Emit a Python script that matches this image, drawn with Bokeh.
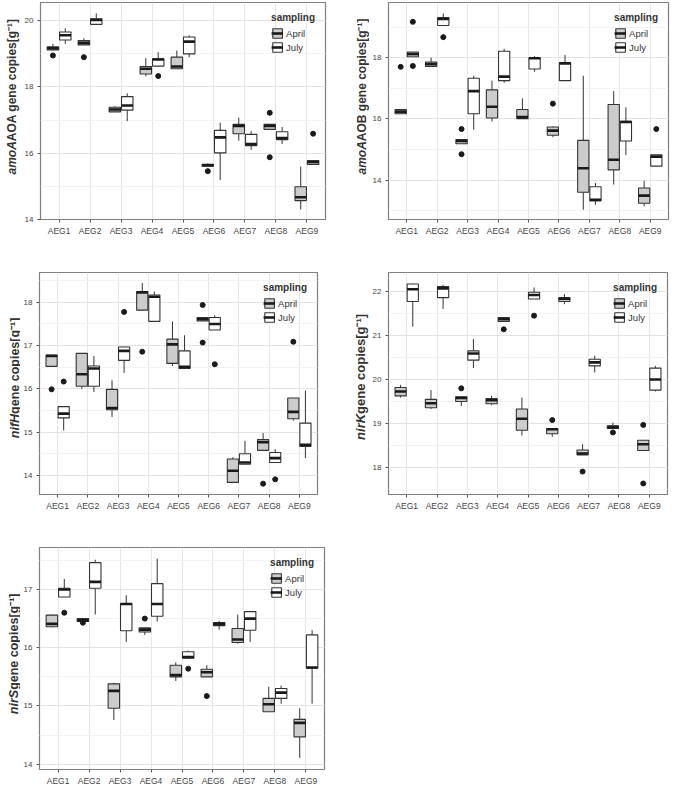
import math
from bokeh.plotting import figure
from bokeh.models import (ColumnDataSource, Range1d, SingleIntervalTicker, FixedTicker,
                          Legend, LegendItem)
from bokeh.core.properties import value
from bokeh.transform import dodge
from bokeh.layouts import column, row
from bokeh.embed import file_html
from bokeh.resources import INLINE

categories = ["AEG1", "AEG2", "AEG3", "AEG4", "AEG5", "AEG6", "AEG7", "AEG8", "AEG9"]
seasons = ["April", "July"]

# each entry: (lower whisker, Q1, median, Q3, upper whisker)
aoa_april = [(19.12, 19.12, 19.17, 19.21, 19.30), (19.27, 19.27, 19.33, 19.40, 19.47),
             (17.25, 17.25, 17.32, 17.39, 17.42), (18.32, 18.39, 18.55, 18.62, 18.87),
             (18.55, 18.55, 18.62, 18.90, 19.10), (15.61, 15.61, 15.64, 15.66, 15.69),
             (16.38, 16.59, 16.82, 16.87, 17.07), (16.72, 16.72, 16.82, 16.87, 16.87),
             (14.30, 14.57, 14.67, 14.99, 15.60)]
aoa_july = [(19.30, 19.42, 19.56, 19.66, 19.77), (19.89, 19.89, 20.02, 20.06, 20.22),
            (16.97, 17.30, 17.44, 17.71, 17.81), (18.63, 18.63, 18.83, 18.85, 19.05),
            (18.90, 19.00, 19.37, 19.51, 19.56), (15.19, 16.01, 16.48, 16.69, 16.92),
            (16.10, 16.23, 16.28, 16.57, 16.67), (16.28, 16.41, 16.46, 16.65, 16.79),
            (15.66, 15.66, 15.73, 15.78, 15.78)]
aoa_april_out = [("AEG1", 18.95), ("AEG2", 18.90), ("AEG6", 15.46), ("AEG8", 17.22), ("AEG8", 15.88)]
aoa_july_out = [("AEG4", 18.33), ("AEG9", 16.59)]

aob_april = [(16.17, 16.17, 16.24, 16.31, 16.31), (17.71, 17.71, 17.79, 17.86, 18.00),
             (15.19, 15.19, 15.28, 15.33, 15.33), (15.92, 16.03, 16.40, 16.95, 17.25),
             (16.00, 16.01, 16.06, 16.31, 16.67), (15.41, 15.47, 15.62, 15.74, 15.76),
             (13.04, 13.61, 14.39, 15.30, 17.41), (13.86, 14.34, 14.67, 16.47, 16.91),
             (13.15, 13.25, 13.50, 13.75, 13.98)]
aob_july = [(18.03, 18.03, 18.11, 18.18, 18.18), (19.05, 19.05, 19.26, 19.31, 19.44),
            (15.65, 16.17, 16.91, 17.33, 17.41), (17.18, 17.25, 17.38, 18.21, 18.29),
            (17.54, 17.63, 17.98, 18.00, 18.05), (17.25, 17.25, 17.81, 17.84, 18.09),
            (13.20, 13.33, 13.36, 13.79, 13.91), (14.82, 15.28, 15.90, 15.92, 16.38),
            (14.46, 14.46, 14.77, 14.83, 14.83)]
aob_april_out = [("AEG1", 17.70), ("AEG3", 15.67), ("AEG3", 14.85), ("AEG6", 16.50)]
aob_july_out = [("AEG1", 19.17), ("AEG1", 17.73), ("AEG2", 18.67), ("AEG9", 15.67)]

nifh_april = [(16.52, 16.52, 16.76, 16.78, 16.78), (16.00, 16.06, 16.34, 16.82, 16.82),
              (15.35, 15.52, 15.56, 15.99, 16.20), (17.82, 17.82, 18.23, 18.25, 18.45),
              (16.53, 16.59, 17.03, 17.15, 17.56), (17.57, 17.57, 17.61, 17.65, 17.65),
              (13.84, 13.84, 14.11, 14.38, 14.42), (14.58, 14.58, 14.77, 14.83, 14.98),
              (15.27, 15.31, 15.47, 15.79, 15.79)]
nifh_july = [(15.04, 15.33, 15.43, 15.59, 15.59), (15.93, 16.06, 16.47, 16.53, 16.76),
             (16.37, 16.66, 16.88, 16.97, 16.97), (17.56, 17.56, 18.13, 18.17, 18.25),
             (16.47, 16.47, 16.51, 16.88, 17.24), (17.36, 17.36, 17.50, 17.65, 17.70),
             (14.26, 14.26, 14.30, 14.50, 14.80), (14.30, 14.30, 14.40, 14.53, 14.61),
             (14.40, 14.67, 14.71, 15.21, 15.96)]
nifh_april_out = [("AEG1", 15.99), ("AEG4", 16.86), ("AEG6", 17.94), ("AEG6", 17.07),
                  ("AEG8", 13.81), ("AEG9", 17.09)]
nifh_july_out = [("AEG1", 16.17), ("AEG3", 17.78), ("AEG6", 16.57), ("AEG8", 13.91)]

nirk_april = [(19.59, 19.63, 19.73, 19.82, 19.88), (19.33, 19.36, 19.46, 19.55, 19.76),
              (19.40, 19.50, 19.58, 19.61, 19.61), (19.42, 19.45, 19.53, 19.57, 19.63),
              (18.73, 18.85, 19.11, 19.33, 19.59), (18.70, 18.77, 18.87, 18.89, 18.89),
              (18.29, 18.29, 18.32, 18.40, 18.53), (18.89, 18.89, 18.92, 18.95, 19.02),
              (18.39, 18.39, 18.53, 18.62, 18.62)]
nirk_july = [(21.20, 21.77, 22.05, 22.17, 22.18), (21.60, 21.86, 22.07, 22.11, 22.15),
             (20.26, 20.44, 20.59, 20.65, 20.92), (21.32, 21.32, 21.37, 21.41, 21.41),
             (21.83, 21.83, 21.92, 21.98, 22.09), (21.71, 21.77, 21.83, 21.86, 21.94),
             (20.16, 20.31, 20.39, 20.46, 20.54), None,
             (19.73, 19.76, 20.00, 20.26, 20.31)]
nirk_april_out = [("AEG3", 19.80), ("AEG6", 19.08), ("AEG7", 17.91), ("AEG8", 18.80),
                  ("AEG9", 18.97), ("AEG9", 17.64)]
nirk_july_out = [("AEG4", 21.14), ("AEG5", 21.45)]

nirs_april = [(16.35, 16.36, 16.41, 16.56, 16.57), (16.45, 16.45, 16.47, 16.50, 16.50),
              (14.76, 14.96, 15.26, 15.38, 15.40), (16.22, 16.27, 16.31, 16.34, 16.34),
              (15.43, 15.50, 15.53, 15.70, 15.75), (15.50, 15.50, 15.58, 15.63, 15.70),
              (16.07, 16.09, 16.14, 16.33, 16.57), (14.90, 14.90, 15.03, 15.13, 15.33),
              (14.11, 14.47, 14.71, 14.77, 14.96)]
nirs_july = [(16.87, 16.87, 17.00, 17.02, 17.18), (16.57, 17.02, 17.13, 17.46, 17.51),
             (16.10, 16.29, 16.75, 16.76, 16.90), (16.45, 16.54, 16.75, 17.10, 17.53),
             (15.82, 15.82, 15.84, 15.93, 15.95), (16.31, 16.38, 16.41, 16.43, 16.46),
             (16.10, 16.30, 16.50, 16.62, 16.63), (15.04, 15.13, 15.23, 15.30, 15.35),
             (15.04, 15.65, 15.66, 16.22, 16.30)]
nirs_april_out = [("AEG2", 16.43), ("AEG4", 16.50), ("AEG6", 15.17)]
nirs_july_out = [("AEG1", 16.60), ("AEG5", 15.64)]

TICK_FONT = "'Liberation Sans Narrow', 'Liberation Sans', Arial, sans-serif"
LAB_FONT = "'Liberation Sans', Arial, sans-serif"
FILLS = {"April": "#cccccc", "July": "#ffffff"}
OFFS = {"April": -0.2, "July": 0.2}
X0, X1 = 0.4, len(categories) + 0.6
POS = {c: i + 1 for i, c in enumerate(categories)}
PANEL_BORDER_LEFT = 15


def make_panel(april, july, april_out, july_out, yr, interval, gene, rest,
               w, h, bl, br, bt, bb, lab_px, lab_fs, split_off):
    lw = bl - PANEL_BORDER_LEFT
    p = figure(width=w - lw, height=h, x_range=Range1d(X0, X1),
               y_range=Range1d(*yr), output_backend="svg", toolbar_location=None,
               min_border_left=PANEL_BORDER_LEFT, min_border_right=br,
               min_border_top=bt, min_border_bottom=bb)
    p.background_fill_color = "white"
    p.border_fill_color = "white"
    p.outline_line_color = "#7f7f7f"
    p.outline_line_width = 1.2

    p.xaxis.ticker = FixedTicker(ticks=[POS[c] for c in categories])
    p.xaxis.major_label_overrides = {POS[c]: c for c in categories}
    p.yaxis.ticker = SingleIntervalTicker(interval=interval, num_minor_ticks=2)
    for ax in (p.xaxis[0], p.yaxis[0]):
        ax.axis_line_color = None
        ax.major_tick_line_color = "#555555"
        ax.major_tick_in = 0
        ax.major_tick_out = 3
        ax.minor_tick_line_color = None
        ax.major_label_text_font = TICK_FONT
        ax.major_label_text_color = "#444444"
        ax.major_label_standoff = 3
    p.xaxis.major_label_text_font_size = "8.5px"
    p.yaxis.major_label_text_font_size = "8px"
    p.xgrid.grid_line_color = "#e6e6e6"
    p.ygrid.grid_line_color = "#e3e3e3"
    p.ygrid.minor_grid_line_color = "#f3f3f3"

    items = []
    for season, stats, outs in (("April", april, april_out), ("July", july, july_out)):
        off = OFFS[season]
        cats = [c for c, s in zip(categories, stats) if s is not None]
        vals = [s for s in stats if s is not None]
        src = ColumnDataSource(dict(xi=[POS[c] for c in cats],
                                    lo=[v[0] for v in vals], q1=[v[1] for v in vals],
                                    med=[v[2] for v in vals], q3=[v[3] for v in vals],
                                    hi=[v[4] for v in vals]))
        xc = dodge("xi", off)
        p.segment(x0=xc, y0="q3", x1=xc, y1="hi", source=src, line_color="#333333", line_width=1)
        p.segment(x0=xc, y0="lo", x1=xc, y1="q1", source=src, line_color="#333333", line_width=1)
        box = p.vbar(x=xc, width=0.37, bottom="q1", top="q3", source=src,
                     fill_color=FILLS[season], line_color="#333333", line_width=1.1)
        med = p.segment(x0=dodge("xi", off - 0.185), y0="med",
                        x1=dodge("xi", off + 0.185), y1="med",
                        source=src, line_color="#1a1a1a", line_width=2.6)
        osrc = ColumnDataSource(dict(xi=[POS[o[0]] for o in outs], val=[o[1] for o in outs]))
        p.scatter(x=xc, y="val", source=osrc, size=5, color="#1a1a1a")
        items.append(LegendItem(label=season, renderers=[box, med]))

    legend = Legend(items=items, title="sampling", location="top_right")
    legend.title_text_font = LAB_FONT
    legend.title_text_font_style = "bold"
    legend.title_text_font_size = "10px"
    legend.title_text_color = "#333333"
    legend.label_text_font = LAB_FONT
    legend.label_text_font_size = "9.5px"
    legend.label_text_color = "#333333"
    legend.background_fill_alpha = 0
    legend.border_line_color = None
    legend.glyph_width = 12
    legend.glyph_height = 12
    legend.label_standoff = 3
    legend.spacing = 2
    legend.padding = 3
    legend.margin = 10
    legend.title_standoff = 4
    p.add_layout(legend)

    # y-axis title strip: a narrow figure (pixel coordinates) left of the panel
    t = figure(width=lw, height=h, x_range=Range1d(0, lw), y_range=Range1d(0, h),
               x_axis_type=None, y_axis_type=None, output_backend="svg",
               toolbar_location=None, min_border=0)
    t.outline_line_color = None
    t.grid.visible = False
    t.background_fill_color = "white"
    t.border_fill_color = "white"
    fh = h - bt - bb
    lx = bl - lab_px
    ly = bb + fh / 2 - split_off
    t.text(x=[lx], y=[ly], text=[gene], angle=math.pi / 2, text_align="right",
           text_baseline="middle", text_font=value(LAB_FONT),
           text_font_style="bold italic", text_font_size=lab_fs, text_color="#333333")
    t.text(x=[lx], y=[ly], text=[rest], angle=math.pi / 2, text_align="left",
           text_baseline="middle", text_font=value(LAB_FONT),
           text_font_style="bold", text_font_size=lab_fs, text_color="#333333")
    return row(t, p)


p1 = make_panel(aoa_april, aoa_july, aoa_april_out, aoa_july_out, (14.0, 20.55), 2,
                "amoA", " AOA gene copies[g\u207b\u00b9]",
                335, 248, 36, 10, 2, 29, 25, "12px", 48)
p2 = make_panel(aob_april, aob_july, aob_april_out, aob_july_out, (12.72, 19.8), 2,
                "amoA", " AOB gene copies[g\u207b\u00b9]",
                335, 248, 49, 2, 2, 29, 23, "12px", 48)
p3 = make_panel(nifh_april, nifh_july, nifh_april_out, nifh_july_out, (13.56, 18.69), 1,
                "nifH", "gene copies[g\u207b\u00b9]",
                335, 270, 35, 18, 24, 24, 21, "12.5px", 37)
p4 = make_panel(nirk_april, nirk_july, nirk_april_out, nirk_july_out, (17.39, 22.43), 1,
                "nirK", "gene copies[g\u207b\u00b9]",
                335, 270, 49, 3, 24, 24, 24, "13px", 37)
p5 = make_panel(nirs_april, nirs_july, nirs_april_out, nirs_july_out, (13.91, 17.72), 1,
                "nirS", "gene copies[g\u207b\u00b9]",
                335, 276, 35, 11, 29, 25, 22, "12.5px", 37)

layout = column(row(p1, p2), row(p3, p4), row(p5))
open("out.html", "w").write(file_html(layout, INLINE))
